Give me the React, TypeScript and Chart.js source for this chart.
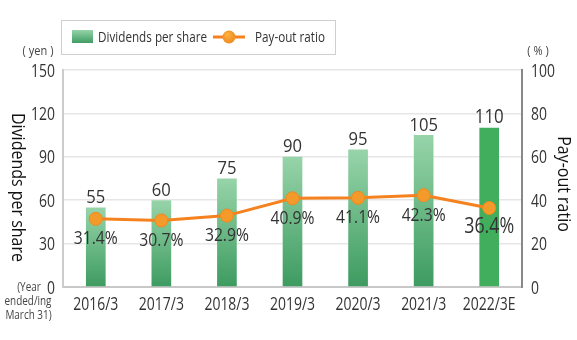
import React, { useEffect, useRef } from "react";
import { Chart, registerables } from "chart.js";

Chart.register(...registerables);

const categories = ["2016/3", "2017/3", "2018/3", "2019/3", "2020/3", "2021/3", "2022/3E"];
const dividends = [55, 60, 75, 90, 95, 105, 110];
const payoutRatio = [31.4, 30.7, 32.9, 40.9, 41.1, 42.3, 36.4];
const payoutLabels = ["31.4%", "30.7%", "32.9%", "40.9%", "41.1%", "42.3%", "36.4%"];
const leftTicks = [0, 30, 60, 90, 120, 150];
const rightTicks = [0, 20, 40, 60, 80, 100];

const FONT = "'Open Sans', 'Noto Sans', sans-serif";

function sxFor(ctx: CanvasRenderingContext2D, size: number, sample: string, target: number) {
  ctx.font = `${size}px ${FONT}`;
  const w = ctx.measureText(sample).width;
  return w > 0 ? Math.min(1, target / w) : 1;
}

function drawT(
  ctx: CanvasRenderingContext2D,
  text: string,
  x: number,
  y: number,
  size: number,
  sx: number,
  align: CanvasTextAlign,
  baseline: CanvasTextBaseline,
  color: string,
  rot = 0
) {
  ctx.save();
  ctx.font = `${size}px ${FONT}`;
  ctx.fillStyle = color;
  ctx.textAlign = align;
  ctx.textBaseline = baseline;
  ctx.translate(x, y);
  if (rot) ctx.rotate(rot);
  ctx.scale(sx, 1);
  ctx.fillText(text, 0, 0);
  ctx.restore();
}

const overlayPlugin = {
  id: "overlay",
  afterDatasetsDraw(chart: any) {
    const ctx = chart.ctx as CanvasRenderingContext2D;
    const y = chart.scales.y;
    const y1 = chart.scales.y1;
    const barMeta = chart.getDatasetMeta(1);
    const lineMeta = chart.getDatasetMeta(0);
    const sxVal = sxFor(ctx, 18, "105", 28.5);
    const sxPct = sxFor(ctx, 18, "41.1%", 44);
    const sxBig = sxFor(ctx, 21, "36.4%", 50);
    const sxBigV = sxFor(ctx, 20, "110", 29);
    barMeta.data.forEach((bar: any, i: number) => {
      const last = i === dividends.length - 1;
      drawT(ctx, String(dividends[i]), bar.x, y.getPixelForValue(dividends[i]) - 4.5,
        last ? 20 : 18, last ? sxBigV : sxVal, "center", "alphabetic", "#333");
    });
    lineMeta.data.forEach((pt: any, i: number) => {
      const last = i === payoutRatio.length - 1;
      drawT(ctx, payoutLabels[i], pt.x, y1.getPixelForValue(payoutRatio[i]) + (last ? 25 : 25.5),
        last ? 21 : 18, last ? sxBig : sxPct, "center", "alphabetic", "#333");
    });
  },
  afterDraw(chart: any) {
    const ctx = chart.ctx as CanvasRenderingContext2D;
    const xs = chart.scales.x;
    const ys = chart.scales.y;
    const y1 = chart.scales.y1;

    // tick labels
    const sxTick = sxFor(ctx, 18, "2016/3", 45);
    categories.forEach((c, i) => {
      drawT(ctx, c, xs.getPixelForTick(i), 305, 18, sxTick, "center", "middle", "#333");
    });
    leftTicks.forEach((v) => {
      drawT(ctx, String(v), 55, ys.getPixelForValue(v) + 1.5, 18, sxTick, "right", "middle", "#333");
    });
    rightTicks.forEach((v) => {
      drawT(ctx, String(v), 531, y1.getPixelForValue(v) + 1.5, 18, sxTick, "left", "middle", "#333");
    });

    // legend
    ctx.save();
    ctx.strokeStyle = "#cfcfcf";
    ctx.lineWidth = 1;
    ctx.strokeRect(61.5, 20.5, 274, 34);
    const g = ctx.createLinearGradient(0, 30, 0, 43);
    g.addColorStop(0, "#96d3a8");
    g.addColorStop(1, "#3f9c62");
    ctx.fillStyle = g;
    ctx.fillRect(72, 30, 21, 13);
    ctx.strokeStyle = "#f5821f";
    ctx.lineWidth = 3;
    ctx.beginPath();
    ctx.moveTo(213, 37);
    ctx.lineTo(245, 37);
    ctx.stroke();
    const rg = ctx.createRadialGradient(227, 34, 1, 229, 37, 7);
    rg.addColorStop(0, "#fbb040");
    rg.addColorStop(1, "#f08a1e");
    ctx.fillStyle = rg;
    ctx.beginPath();
    ctx.arc(229, 37, 6.5, 0, Math.PI * 2);
    ctx.fill();
    ctx.restore();
    const sxLeg = sxFor(ctx, 15, "Dividends per share", 109);
    drawT(ctx, "Dividends per share", 98, 37.5, 15, sxLeg, "left", "middle", "#333");
    drawT(ctx, "Pay-out ratio", 255, 37.5, 15, sxLeg, "left", "middle", "#333");

    // units
    drawT(ctx, "( yen )", 38, 51, 13, 0.85, "center", "middle", "#444");
    drawT(ctx, "( % )", 538, 51, 13, 0.85, "center", "middle", "#444");

    // year note
    const sxNote = sxFor(ctx, 12, "ended/ing", 47);
    drawT(ctx, "(Year", 29, 288, 12, sxNote, "center", "middle", "#444");
    drawT(ctx, "ended/ing", 28, 302, 12, sxNote, "center", "middle", "#444");
    drawT(ctx, "March 31)", 28.5, 316, 12, sxNote, "center", "middle", "#444");

    // axis titles (rotated clockwise)
    const sxTitle = sxFor(ctx, 18, "Dividends per share", 149);
    drawT(ctx, "Dividends per share", 17, 187.5, 18, sxTitle, "center", "middle", "#111", Math.PI / 2);
    drawT(ctx, "Pay-out ratio", 563, 184, 18, sxTitle, "center", "middle", "#111", Math.PI / 2);
  },
};

export default function App() {
  const ref = useRef<HTMLCanvasElement>(null);
  useEffect(() => {
    document.body.style.margin = "0";
    const canvas = ref.current!;
    const chart = new Chart(canvas, {
      type: "bar",
      data: {
        labels: categories,
        datasets: [
          {
            type: "line",
            data: payoutRatio,
            yAxisID: "y1",
            order: 0,
            borderColor: "#f5821f",
            borderWidth: 3,
            pointRadius: 6.5,
            pointBackgroundColor: "#f49a2a",
            pointBorderColor: "#f08a1e",
            pointBorderWidth: 1,
            tension: 0,
          } as any,
          {
            type: "bar",
            data: dividends,
            yAxisID: "y",
            order: 1,
            barPercentage: 0.3,
            categoryPercentage: 1,
            backgroundColor: (c: any) => {
              const chart = c.chart;
              const ys = chart.scales?.y;
              if (c.dataIndex === dividends.length - 1) return "#40ae5d";
              if (!ys || c.dataIndex === undefined) return "#5db67a";
              const top = ys.getPixelForValue(dividends[c.dataIndex]);
              const bot = ys.getPixelForValue(0);
              if (!isFinite(top) || !isFinite(bot) || top === bot) return "#5db67a";
              const g = chart.ctx.createLinearGradient(0, top, 0, bot);
              g.addColorStop(0, "#97d4a9");
              g.addColorStop(1, "#3d9b60");
              return g;
            },
          } as any,
        ],
      },
      options: {
        responsive: false,
        animation: false,
        layout: { padding: { top: 70, left: 0, right: 0, bottom: 0 } },
        plugins: { legend: { display: false }, tooltip: { enabled: false } },
        scales: {
          x: {
            grid: { display: false, drawTicks: false },
            border: { display: true, color: "#c8c8c8", width: 2 },
            ticks: { display: false, autoSkip: false },
            afterFit: (s: any) => { s.height = 53; },
          },
          y: {
            position: "left",
            min: 0,
            max: 150,
            afterBuildTicks: (s: any) => { s.ticks = leftTicks.map((v) => ({ value: v })); },
            grid: { color: "#e6e6e6", lineWidth: 1.5, drawTicks: false },
            border: { display: true, color: "#cccccc", width: 2 },
            ticks: { display: false },
            afterFit: (s: any) => { s.width = 63; },
          },
          y1: {
            position: "right",
            min: 0,
            max: 100,
            afterBuildTicks: (s: any) => { s.ticks = rightTicks.map((v) => ({ value: v })); },
            grid: { drawOnChartArea: false, drawTicks: false },
            border: { display: true, color: "#888888", width: 2 },
            ticks: { display: false },
            afterFit: (s: any) => { s.width = 55; },
          },
        },
      },
      plugins: [overlayPlugin],
    });
    return () => chart.destroy();
  }, []);
  return (
    <div style={{ width: 577, height: 340, background: "#fff" }}>
      <canvas ref={ref} width={577} height={340} />
    </div>
  );
}
